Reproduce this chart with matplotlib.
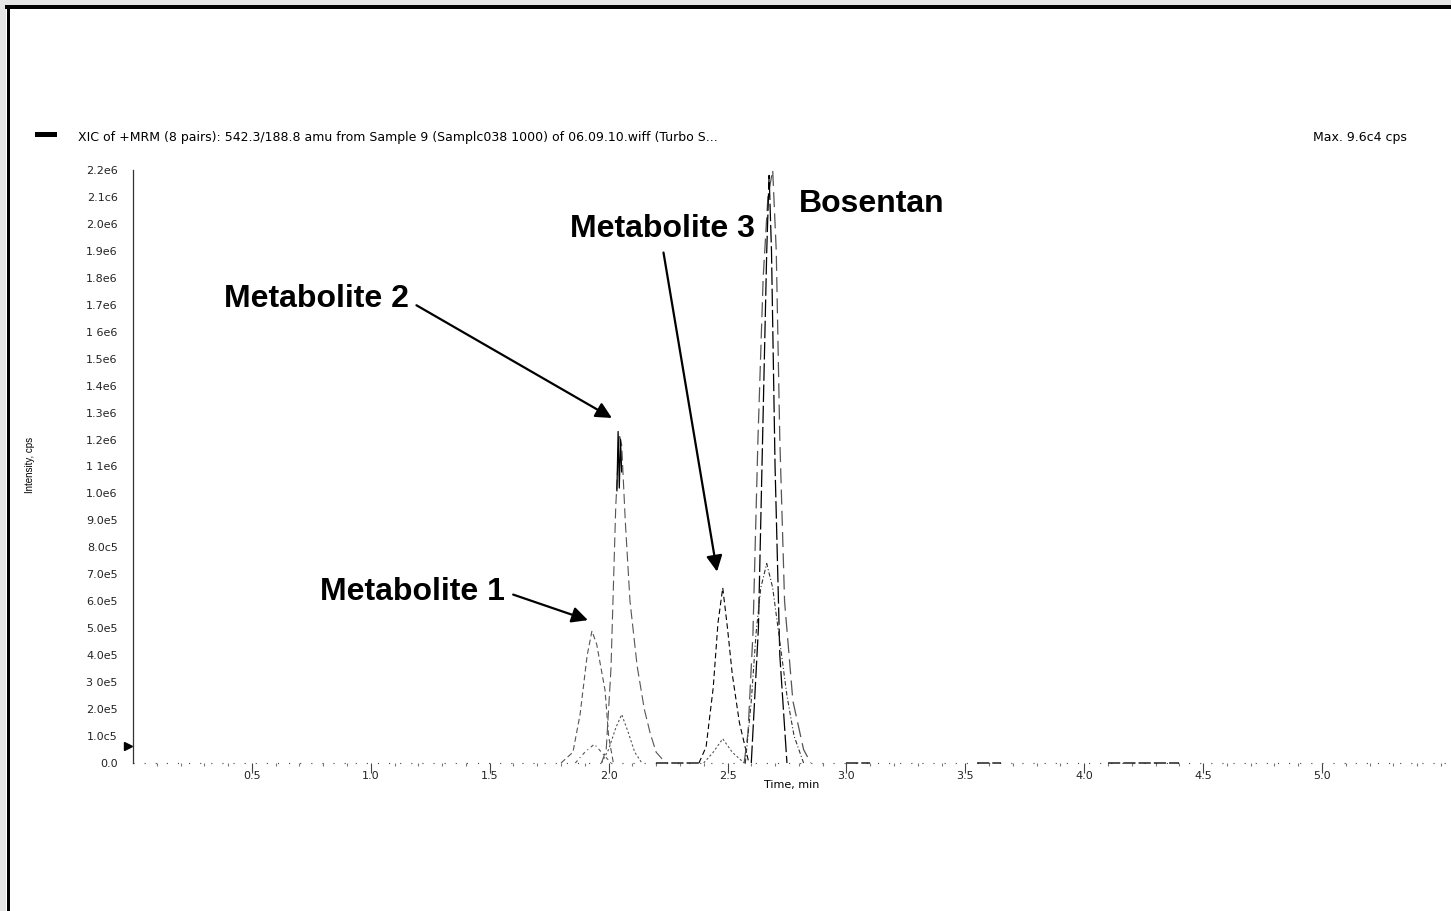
import numpy as np
import matplotlib.pyplot as plt
from matplotlib.patches import Rectangle

########

W, H = 1451, 911

# chromatogram traces (time in min, intensity in cps)
t_met1 = [1.80, 1.85, 1.88, 1.91, 1.93, 1.95, 1.985, 2.00, 2.02]
y_met1 = [0, 0.4e5, 1.8e5, 4.0e5, 4.9e5, 4.4e5, 2.7e5, 1.0e5, 0]

t_met2 = [1.97, 1.99, 2.01, 2.03, 2.045, 2.055, 2.07, 2.09, 2.12, 2.15, 2.175, 2.20, 2.24]
y_met2 = [0, 0.5e5, 3.5e5, 9.5e5, 12.2e5, 11.8e5, 9.0e5, 6.0e5, 3.6e5, 2.0e5, 1.1e5, 0.4e5, 0]

t_met2b = [2.035, 2.040, 2.045, 2.050, 2.055]
y_met2b = [10.1e5, 12.3e5, 10.2e5, 12.0e5, 10.8e5]

t_small1 = [1.97, 2.00, 2.03, 2.055, 2.08, 2.11, 2.14]
y_small1 = [0, 0.5e5, 1.3e5, 1.8e5, 1.2e5, 0.4e5, 0]

t_small2 = [1.86, 1.90, 1.94, 1.98, 2.01]
y_small2 = [0, 0.4e5, 0.7e5, 0.3e5, 0]

t_met3 = [2.38, 2.41, 2.44, 2.46, 2.48, 2.50, 2.52, 2.55, 2.59]
y_met3 = [0, 0.6e5, 2.8e5, 5.2e5, 6.5e5, 5.0e5, 3.3e5, 1.5e5, 0]

t_small3 = [2.40, 2.44, 2.48, 2.52, 2.57]
y_small3 = [0, 0.4e5, 0.9e5, 0.4e5, 0]

t_bos1 = [2.57, 2.586, 2.607, 2.628, 2.65, 2.67, 2.69, 2.705, 2.72, 2.74, 2.775, 2.82, 2.85]
y_bos1 = [0, 1.1e5, 4.8e5, 12e5, 18e5, 21e5, 22e5, 19e5, 12e5, 6e5, 2.3e5, 0.5e5, 0]

t_bos2 = [2.60, 2.63, 2.65, 2.665, 2.675, 2.685, 2.70, 2.72, 2.75]
y_bos2 = [0, 5e5, 13e5, 19e5, 21.8e5, 19e5, 11e5, 4e5, 0]

t_bos3 = [2.575, 2.60, 2.62, 2.64, 2.665, 2.69, 2.72, 2.75, 2.78, 2.82]
y_bos3 = [0, 2.3e5, 4.8e5, 6.5e5, 7.4e5, 6.5e5, 4.5e5, 2.5e5, 1.0e5, 0]

baseline_t = [0.0, 5.55]
baseline_segments = [(2.20, 2.38), (3.00, 3.10), (3.55, 3.65), (4.10, 4.40)]

threshold = 0.63e5

ytick_vals = [i * 1e5 for i in range(23)]
ytick_labels = ["0.0", "1.0c5", "2.0e5", "3 0e5", "4.0e5", "5.0e5", "6.0e5",
                "7.0e5", "8.0c5", "9.0e5", "1.0e6", "1 1e6", "1.2e6", "1.3e6",
                "1.4e6", "1.5e6", "1 6e6", "1.7e6", "1.8e6", "1.9e6", "2.0e6",
                "2.1c6", "2.2e6"]
xtick_vals = [0.5, 1.0, 1.5, 2.0, 2.5, 3.0, 3.5, 4.0, 4.5, 5.0]

title = "XIC of +MRM (8 pairs): 542.3/188.8 amu from Sample 9 (Samplc038 1000) of 06.09.10.wiff (Turbo S..."

########

plt.rcParams['font.family'] = ['DejaVu Sans']

fig = plt.figure(figsize=(W / 100, H / 100), dpi=100)

def px(x0, y0, w, h):
    return [x0 / W, 1 - (y0 + h) / H, w / W, h / H]

# frame of the screenshot
for r, c in [(px(0, 0, W, 5), '#e4e4e4'), (px(0, 0, 6, H), '#e4e4e4'),
             (px(5, 5, W, 4), 'black'), (px(7, 5, 3, H), 'black')]:
    fig.add_artist(Rectangle((r[0], r[1]), r[2], r[3], transform=fig.transFigure,
                             color=c, lw=0))

ax = fig.add_axes(px(133, 170, W - 133, 763 - 170))

ax.plot(baseline_t, [0, 0], color='#444444', lw=0.8, ls=(0, (1, 9)), clip_on=False)
for a, b in baseline_segments:
    ax.plot([a, b], [0, 0], color='#222222', lw=1.1, ls=(0, (8, 2)), clip_on=False)

gray = '#555555'
ax.plot(t_met1, y_met1, color=gray, lw=0.8, ls=(0, (5, 3)), clip_on=False)
ax.plot(t_met2, y_met2, color=gray, lw=0.8, ls=(0, (9, 4)), clip_on=False)
ax.plot(t_met2b, y_met2b, color='black', lw=0.9)
ax.plot(t_small1, y_small1, color=gray, lw=0.8, ls=(0, (2, 2)), clip_on=False)
ax.plot(t_small2, y_small2, color=gray, lw=0.8, ls=(0, (3, 3, 1, 3)), clip_on=False)
ax.plot(t_met3, y_met3, color='black', lw=0.8, ls=(0, (5, 3)), clip_on=False)
ax.plot(t_small3, y_small3, color=gray, lw=0.8, ls=(0, (2, 2)), clip_on=False)
ax.plot(t_bos1, y_bos1, color=gray, lw=0.9, ls=(0, (12, 5)), clip_on=False)
ax.plot(t_bos2, y_bos2, color='black', lw=0.9, ls=(0, (14, 3)), clip_on=False)
ax.plot(t_bos3, y_bos3, color='#333333', lw=0.8, ls=(0, (4, 2, 1, 2)), clip_on=False)

# threshold marker
ax.plot([-0.004], [threshold], marker='>', color='black', ms=6,
        transform=ax.get_yaxis_transform(), clip_on=False)

ax.set_xlim(0, (W - 133) / 237.8)
ax.set_ylim(0, 2.2e6)

ax.set_yticks(ytick_vals)
ax.set_yticklabels(ytick_labels)
ax.tick_params(axis='y', length=0, pad=11, labelsize=8, labelcolor='#222222')

ax.set_xticks(xtick_vals)
ax.set_xticklabels([f"{v:.1f}" for v in xtick_vals])
ax.set_xticks(np.round(np.arange(0.1, 5.51, 0.1), 1), minor=True)
ax.tick_params(axis='x', which='major', length=7, width=0.8, color='#444444',
               pad=-1, labelsize=8, labelcolor='#222222')
ax.tick_params(axis='x', which='minor', length=2, width=0.8, color='#777777')

for s in ['top', 'right', 'bottom']:
    ax.spines[s].set_visible(False)
ax.spines['left'].set_linewidth(0.9)
ax.spines['left'].set_color('#333333')

ax.set_xlabel("Time, min", fontsize=8, labelpad=-1)

fig.text(30 / W, 1 - 465 / H, "Intensity, cps", rotation=90, fontsize=7,
         family='Liberation Sans', ha='center', va='center')

fig.add_artist(Rectangle((35 / W, 1 - 137 / H), 22 / W, 5 / H,
                         transform=fig.transFigure, color='black', lw=0))
fig.text(78 / W, 1 - 137 / H, title, fontsize=9, ha='left', va='center')
fig.text(1313 / W, 1 - 137 / H, "Max. 9.6c4 cps", fontsize=9, ha='left', va='center')

# peak labels
def arrow(rel):
    return dict(arrowstyle='-|>', color='black', lw=1.6, mutation_scale=24,
                shrinkA=4, shrinkB=0, relpos=rel)

lab = dict(fontsize=23, fontweight='bold', family='Liberation Sans',
           annotation_clip=False)

ax.annotate("Metabolite 2", xy=(2.014, 12.8e5), xytext=(1.16, 17.2e5),
            ha='right', va='center', arrowprops=arrow((1, 0.45)), **lab)
ax.annotate("Metabolite 3", xy=(2.456, 7.1e5), xytext=(2.225, 19.8e5),
            ha='center', va='center', arrowprops=arrow((0.5, 0.0)), **lab)
ax.annotate("Metabolite 1", xy=(1.913, 5.3e5), xytext=(1.565, 6.35e5),
            ha='right', va='center', arrowprops=arrow((1, 0.5)), **lab)
ax.annotate("Bosentan", xy=(2.80, 20.75e5), ha='left', va='center', **lab)

plt.savefig("out.png", dpi=100)
